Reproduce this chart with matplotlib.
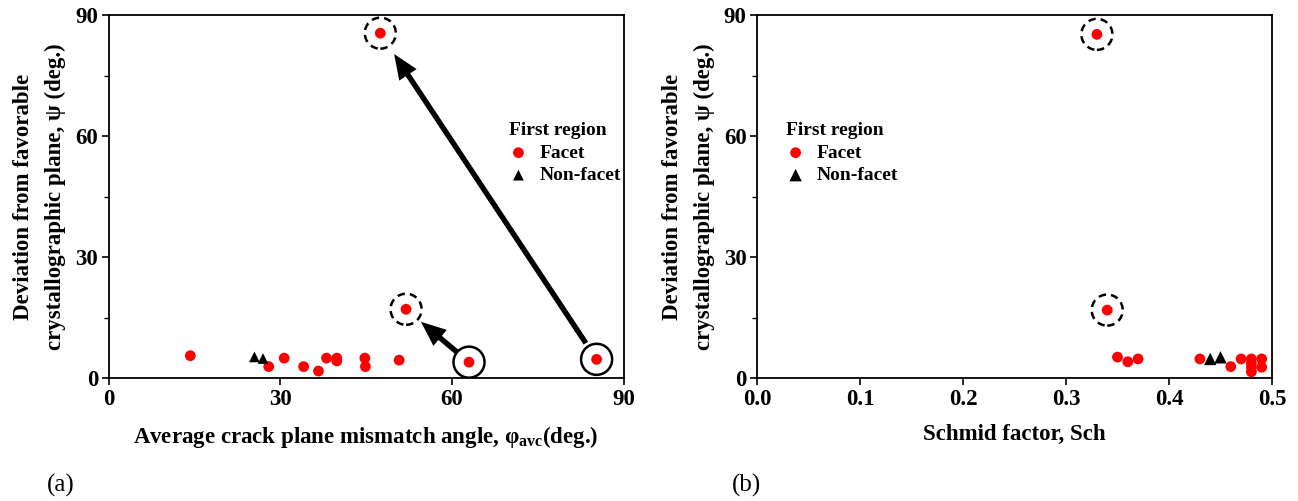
import matplotlib
matplotlib.use("Agg")
import matplotlib.pyplot as plt
from matplotlib.ticker import MultipleLocator

plt.rcParams['font.family'] = ['Liberation Serif', 'DejaVu Serif']
plt.rcParams['font.weight'] = 'bold'
plt.rcParams['mathtext.fontset'] = 'custom'
plt.rcParams['mathtext.rm'] = 'Liberation Serif:bold'
plt.rcParams['mathtext.it'] = 'Liberation Serif:bold'
plt.rcParams['mathtext.bf'] = 'Liberation Serif:bold'

# ---- data: panel (a) ----
a_facet_x = [14.3, 28.0, 30.7, 34.1, 36.7, 38.1, 39.9, 39.9, 44.8, 44.9, 50.8, 63.0, 85.3, 52.0, 47.5]
a_facet_y = [5.6, 2.9, 5.0, 2.9, 1.8, 5.0, 5.0, 4.3, 5.0, 2.9, 4.5, 4.0, 4.7, 17.1, 85.5]
a_nonfacet_x = [25.5, 27.0]
a_nonfacet_y = [5.3, 4.9]
a_solid_circled = [11, 12]
a_dashed_circled = [13, 14]
a_arrows = [(12, 14), (11, 13)]  # (from index, to index)

# ---- data: panel (b) ----
b_facet_x = [0.33, 0.34, 0.35, 0.36, 0.37, 0.43, 0.46, 0.47, 0.48, 0.48, 0.48, 0.48, 0.49, 0.49]
b_facet_y = [85.2, 16.9, 5.25, 4.1, 4.8, 4.8, 2.9, 4.8, 4.8, 3.75, 2.7, 1.6, 4.8, 2.75]
b_nonfacet_x = [0.44, 0.45]
b_nonfacet_y = [4.8, 5.2]
b_dashed_circled = [0, 1]

ylabel = "Deviation from favorable\ncrystallographic plane, \u03c8 (deg.)"
a_xlabel = r"Average crack plane mismatch angle, φ$_{\mathrm{avc}}$(deg.)"
b_xlabel = "Schmid factor, Sch"

fig = plt.figure(figsize=(12.98, 5.01), dpi=100)
axw = 515 / 1298
axh = 363.3 / 501
bottom = (501 - 378.3) / 501
ax1 = fig.add_axes([108.5 / 1298, bottom, axw, axh])
ax2 = fig.add_axes([757.0 / 1298, bottom, axw, axh])

TFS = 16.5
LFS = 16.5
circ_kw = dict(s=500, facecolors='none', edgecolors='black', linewidths=1.8, zorder=4)


def style(ax):
    ax.set_ylim(0, 90)
    ax.yaxis.set_major_locator(MultipleLocator(30))
    ax.yaxis.set_minor_locator(MultipleLocator(15))
    ax.tick_params(axis='both', which='major', direction='out', length=5, width=1.2,
                   labelsize=TFS, pad=2.5)
    ax.tick_params(axis='both', which='minor', direction='out', length=3.5, width=1.0)
    for s in ax.spines.values():
        s.set_linewidth(1.3)
    for lab in ax.get_xticklabels() + ax.get_yticklabels():
        lab.set_fontweight('bold')
    ax.set_ylabel(ylabel, fontsize=LFS, fontweight='bold', labelpad=6.5, linespacing=1.65)


def legend(ax, loc):
    leg = ax.legend(title="First region", loc='upper left', bbox_to_anchor=loc,
                    frameon=False, fontsize=14, title_fontproperties={'weight': 'bold', 'size': 14},
                    handletextpad=0.6, labelspacing=0.25, handlelength=1.0, borderaxespad=0)
    leg._legend_box.align = 'left'


# ---- panel (a) ----
ax1.scatter(a_facet_x, a_facet_y, s=60, color='#ff0000', edgecolors='none', zorder=3, label='Facet')
ax1.scatter(a_nonfacet_x, a_nonfacet_y, s=60, marker='^', color='black', edgecolors='none', zorder=3,
            label='Non-facet')
ax1.scatter([a_facet_x[i] for i in a_solid_circled], [a_facet_y[i] for i in a_solid_circled], **circ_kw)
ax1.scatter([a_facet_x[i] for i in a_dashed_circled], [a_facet_y[i] for i in a_dashed_circled],
            linestyle=(0, (3.0, 2.0)), **circ_kw)
for (i0, i1), (sa, sb) in zip(a_arrows, [(14, 18), (11, 14)]):
    ax1.annotate('', xy=(a_facet_x[i1], a_facet_y[i1]), xytext=(a_facet_x[i0], a_facet_y[i0]),
                 arrowprops=dict(arrowstyle='simple,head_length=0.6,head_width=0.5,tail_width=0.13',
                                 mutation_scale=30, fc='black', ec='none', shrinkA=sa, shrinkB=sb),
                 zorder=5)
ax1.set_xlim(0, 90)
ax1.xaxis.set_major_locator(MultipleLocator(30))
style(ax1)
ax1.set_xlabel(a_xlabel, fontsize=LFS, fontweight='bold', labelpad=10)
legend(ax1, (0.762, 0.726))

# ---- panel (b) ----
ax2.scatter(b_facet_x, b_facet_y, s=60, color='#ff0000', edgecolors='none', zorder=3, label='Facet')
ax2.scatter(b_nonfacet_x, b_nonfacet_y, s=80, marker='^', color='black', edgecolors='none', zorder=3,
            label='Non-facet')
ax2.scatter([b_facet_x[i] for i in b_dashed_circled], [b_facet_y[i] for i in b_dashed_circled],
            linestyle=(0, (3.0, 2.0)), **circ_kw)
ax2.set_xlim(0, 0.5)
ax2.xaxis.set_major_locator(MultipleLocator(0.1))
ax2.xaxis.set_major_formatter(matplotlib.ticker.FormatStrFormatter('%.1f'))
style(ax2)
ax2.set_xlabel(b_xlabel, fontsize=LFS, fontweight='bold', labelpad=10)
legend(ax2, (0.041, 0.726))

fig.text(47 / 1298, 1 - 485 / 501, "(a)", fontsize=18, fontweight='normal', va='center', ha='left')
fig.text(732 / 1298, 1 - 485 / 501, "(b)", fontsize=18, fontweight='normal', va='center', ha='left')

fig.savefig("out.png", dpi=100, facecolor='white')
